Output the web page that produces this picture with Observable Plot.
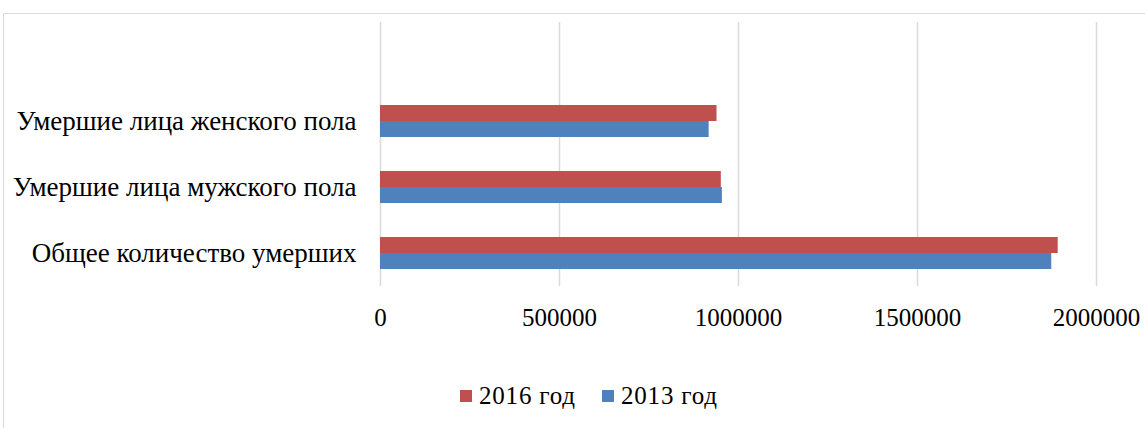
<!DOCTYPE html>
<html>
<head>
<meta charset="utf-8">
<script src="https://cdn.jsdelivr.net/npm/d3@7"></script>
<script src="https://cdn.jsdelivr.net/npm/@observablehq/plot@0.6"></script>
<style>
  html, body { margin: 0; padding: 0; background: #fff; }
  #wrap { position: relative; width: 1145px; height: 428px; overflow: hidden; }
  #frame { position: absolute; left: 3px; top: 13px; width: 1300px; height: 600px;
           border-left: 1px solid #d9d9d9; border-top: 1px solid #d9d9d9; }
  #chart { position: absolute; left: 0; top: 0; }
  #legend { position: absolute; left: 0; width: 1145px; top: 382px;
            font-family: "Liberation Serif", "Times New Roman", serif; font-size: 25px; color: #000;
            letter-spacing: 0.8px; }
  .item { position: absolute; display: flex; align-items: center; white-space: nowrap; }
  .sw { width: 12px; height: 12px; margin-right: 7px; }
</style>
</head>
<body>
<div id="wrap">
  <div id="frame"></div>
  <div id="chart"></div>
  <div id="legend"></div>
</div>
<script>
const categories = ["Умершие лица женского пола", "Умершие лица мужского пола", "Общее количество умерших"];
const years = ["2016 год", "2013 год"];
const values2016 = [940000, 952000, 1893000];
const values2013 = [918000, 955000, 1875000];
const xTicks = [0, 500000, 1000000, 1500000, 2000000];
const colors = {"2016 год": "#C0504D", "2013 год": "#4F81BD"};

const rows = [];
categories.forEach((c, i) => {
  rows.push({category: c, year: "2016 год", value: values2016[i]});
  rows.push({category: c, year: "2013 год", value: values2013[i]});
});

const chart = Plot.plot({
  width: 1145,
  height: 345,
  marginLeft: 380,
  marginRight: 49,
  marginTop: 22,
  marginBottom: 59,
  x: {domain: [0, 2000000]},
  y: {domain: categories, range: [88, 286], padding: 0},
  color: {domain: years, range: years.map(y => colors[y])},
  style: {fontFamily: "'Liberation Serif', 'Times New Roman', serif", color: "#000", background: "transparent", overflow: "visible"},
  marks: [
    Plot.gridX(xTicks, {stroke: "#d9d9d9", strokeOpacity: 1, strokeWidth: 1.5}),
    Plot.barX(rows.filter(d => d.year === "2016 год"), {x: "value", y: "category", fill: "year", insetTop: 17, insetBottom: 33}),
    Plot.barX(rows.filter(d => d.year === "2013 год"), {x: "value", y: "category", fill: "year", insetTop: 33, insetBottom: 17}),
    Plot.axisX(xTicks, {tickSize: 0, tickPadding: 22, tickFormat: d3.format("d"), fontSize: 25, label: null}),
    Plot.axisY({tickSize: 0, tickPadding: 24, fontSize: 27, label: null})
  ]
});
document.getElementById("chart").appendChild(chart);

const legend = document.getElementById("legend");
const lx = {"2016 год": 460, "2013 год": 602};
years.forEach(y => {
  const it = document.createElement("div");
  it.className = "item";
  it.style.left = lx[y] + "px";
  const sw = document.createElement("span");
  sw.className = "sw";
  sw.style.background = colors[y];
  const tx = document.createElement("span");
  tx.textContent = y;
  it.appendChild(sw);
  it.appendChild(tx);
  legend.appendChild(it);
});
</script>
</body>
</html>
